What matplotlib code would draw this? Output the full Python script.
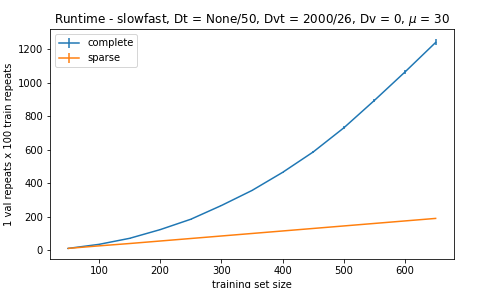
import matplotlib
matplotlib.use('Agg')
import matplotlib.pyplot as plt

# training set sizes
sizes = [50, 100, 150, 200, 250, 300, 350, 400, 450, 500, 550, 600, 650]

# runtimes
complete = [10, 34, 70, 122, 184, 266, 356, 464, 586, 730, 894, 1064, 1240]
complete_err = [1, 1, 1, 2, 2, 3, 3, 4, 6, 9, 10, 12, 18]
sparse = [10, 25, 39, 54, 69, 84, 99, 114, 129, 144, 159, 174, 189]
sparse_err = [0.5, 0.5, 0.5, 0.5, 0.5, 0.5, 0.5, 0.5, 0.5, 0.5, 0.5, 0.5, 0.5]


def plot_runtime():
    fig = plt.figure(figsize=(7, 4), dpi=72)
    ax = fig.add_axes([50 / 504, 29 / 288, 404 / 504, 230 / 288])
    ax.errorbar(sizes, complete, yerr=complete_err, label='complete')
    ax.errorbar(sizes, sparse, yerr=sparse_err, label='sparse')
    ax.set_title(r'Runtime - slowfast, Dt = None/50, Dvt = 2000/26, Dv = 0, $\mu$ = 30')
    ax.set_xlabel('training set size')
    ax.set_ylabel('1 val repeats x 100 train repeats')
    ax.legend(loc='upper left')
    fig.savefig('out.png', dpi=72)


if __name__ == '__main__':
    plot_runtime()
